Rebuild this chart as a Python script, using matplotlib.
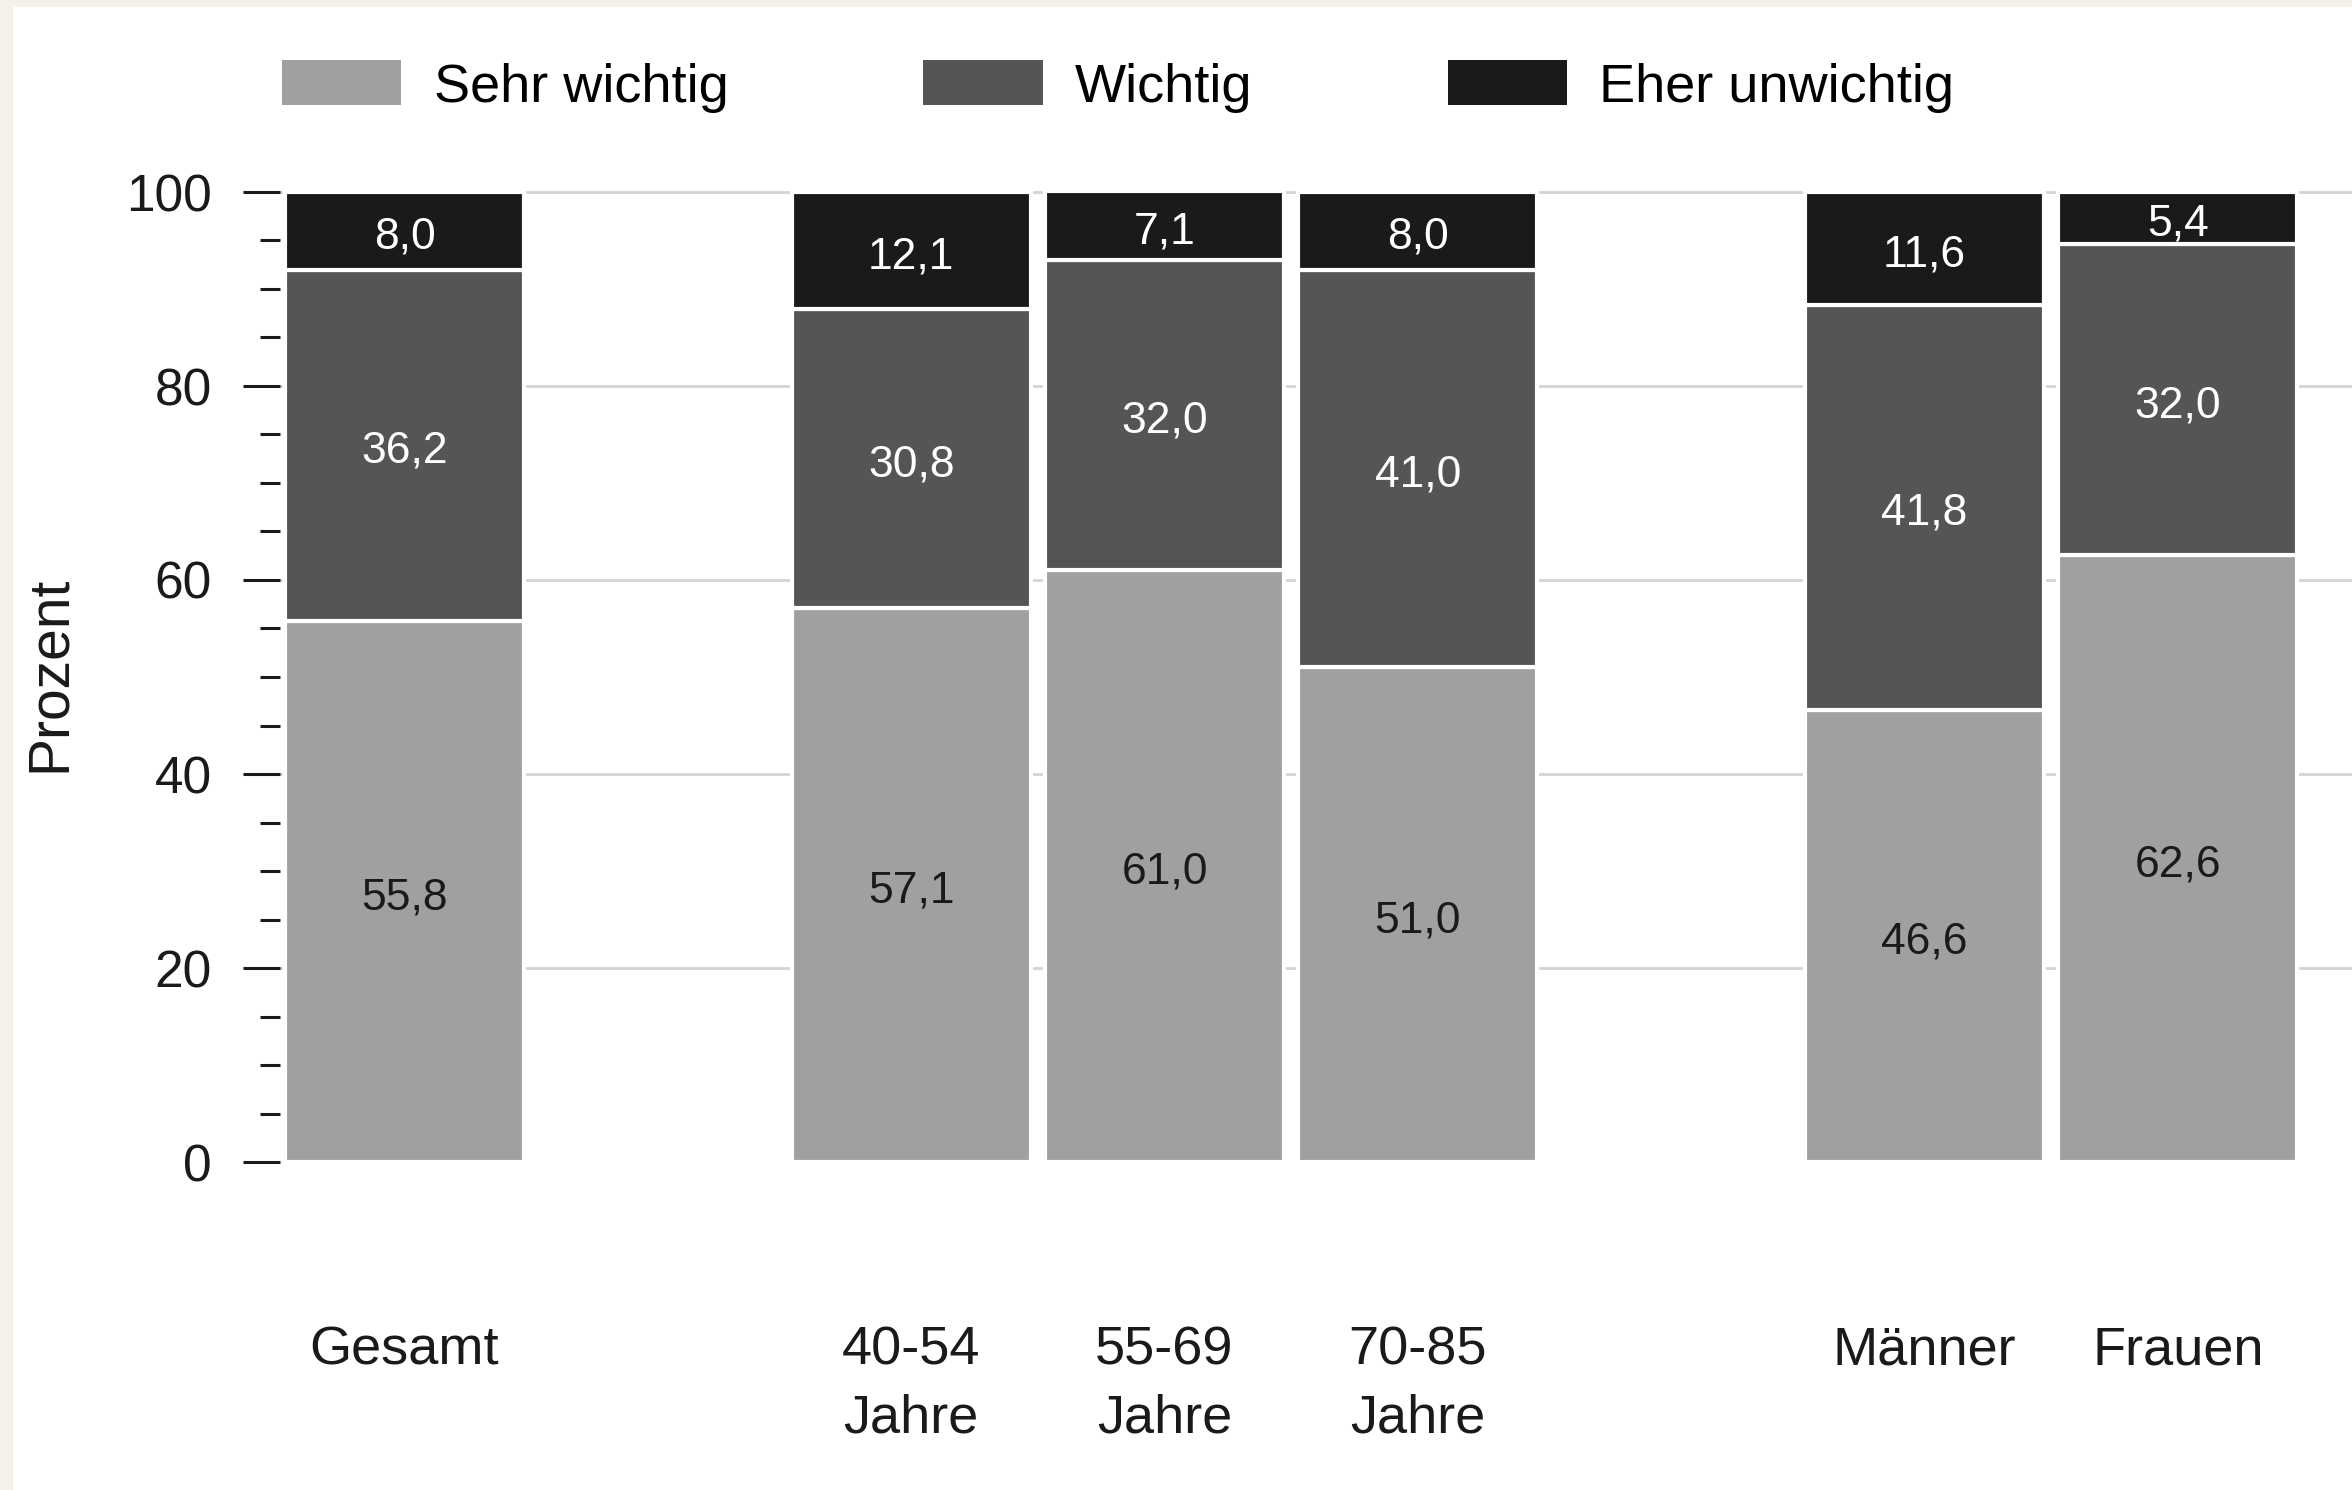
import matplotlib
matplotlib.use("Agg")
import matplotlib.pyplot as plt
from matplotlib.patches import Patch, Rectangle
from matplotlib.ticker import MultipleLocator
from matplotlib.transforms import offset_copy

plt.rcParams['font.family'] = ['Liberation Sans', 'DejaVu Sans']

categories = ["Gesamt", "40-54\nJahre", "55-69\nJahre", "70-85\nJahre", "Männer", "Frauen"]
positions = [0, 2, 3, 4, 6, 7]
series_names = ["Sehr wichtig", "Wichtig", "Eher unwichtig"]
sehr_wichtig = [55.8, 57.1, 61.0, 51.0, 46.6, 62.6]
wichtig = [36.2, 30.8, 32.0, 41.0, 41.8, 32.0]
eher_unwichtig = [8.0, 12.1, 7.1, 8.0, 11.6, 5.4]
y_ticks = [0, 20, 40, 60, 80, 100]

colors = ["#a0a0a0", "#555555", "#1a1a1a"]
text_colors = ["#1a1a1a", "white", "white"]

W, H = 2352, 1490
fig = plt.figure(figsize=(W / 100, H / 100), dpi=100)
fig.patch.set_facecolor("#f4f1ea")
fig.patches.append(Rectangle((13 / W, 0), 1 - 13 / W, 1 - 7 / H, transform=fig.transFigure,
                             facecolor="white", edgecolor="none", zorder=-1))

ax_left = 280 / W
ax_bottom = (H - 1162) / H
y_top_px = 192 - 9.7  # value 101
ax_top = (H - y_top_px) / H
ax = fig.add_axes([ax_left, ax_bottom, 1 - ax_left, ax_top - ax_bottom])
ax.set_facecolor("none")

label_tr = offset_copy(ax.transData, fig=fig, x=0, y=-4.5, units="points")

bottoms = [0.0] * len(categories)
for vals, col, tcol in zip([sehr_wichtig, wichtig, eher_unwichtig], colors, text_colors):
    ax.bar(positions, vals, width=0.943, bottom=bottoms, color=col,
           edgecolor="white", linewidth=3.0, zorder=3)
    for x, b, v in zip(positions, bottoms, vals):
        ax.text(x, b + v / 2, f"{v:.1f}".replace(".", ","), ha="center", va="center",
                color=tcol, fontsize=32, zorder=4, transform=label_tr)
    bottoms = [b + v for b, v in zip(bottoms, vals)]

ax.set_xlim(-0.4915, 7.687)
ax.set_ylim(0, 101)
for s in ax.spines.values():
    s.set_visible(False)

ax.set_yticks(y_ticks)
ax.yaxis.set_minor_locator(MultipleLocator(5))
ax.tick_params(axis="y", which="major", length=27, width=2.2, pad=22, labelsize=37, colors="#1a1a1a")
ax.tick_params(axis="y", which="minor", length=14.5, width=2.2, colors="#1a1a1a")
for g in y_ticks[1:]:
    ax.axhline(g, color="#d4d4d4", linewidth=2.0, zorder=1)

ax.set_xticks(positions)
ax.set_xticklabels(categories, fontsize=39, linespacing=1.45)
ax.tick_params(axis="x", length=0, pad=118, colors="#1a1a1a")

fig.text(50 / W, (H - 674) / H, "Prozent", rotation=90, ha="center", va="center",
         fontsize=41, color="#1a1a1a")

handles = [Patch(facecolor=c, edgecolor="none") for c in colors]
fig.legend(handles, series_names, loc="center left", bbox_to_anchor=(282 / W, (H - 86.5) / H),
           ncol=3, frameon=False, fontsize=39, handlelength=2.2, handleheight=0.9,
           handletextpad=0.6, columnspacing=3.6, borderpad=0, borderaxespad=0)

fig.savefig("out.png", dpi=100, facecolor=fig.get_facecolor())
